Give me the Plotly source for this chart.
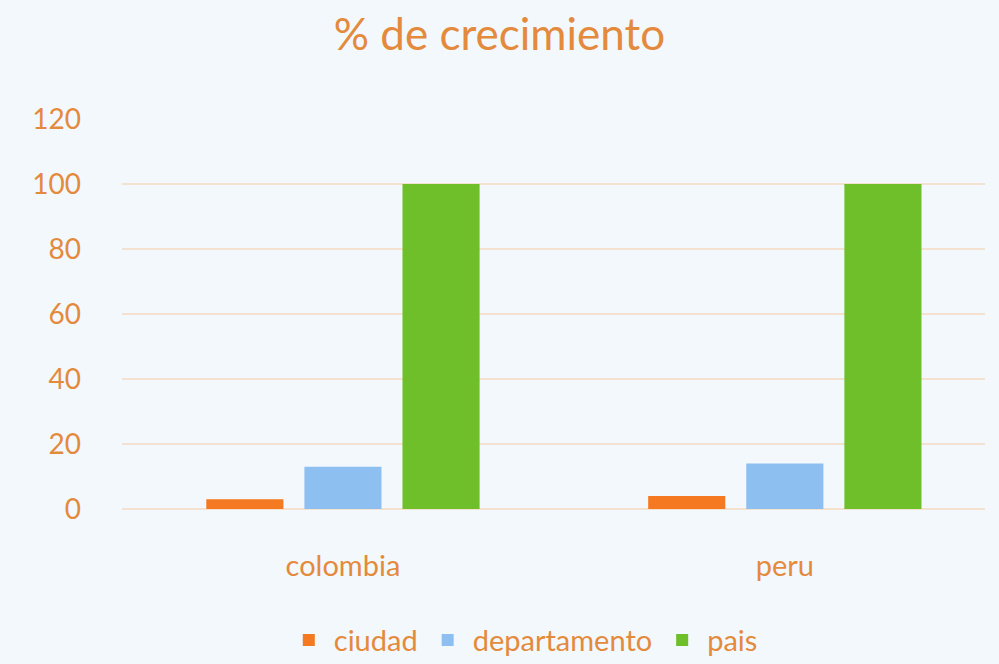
import plotly.graph_objects as go

categories = ["colombia", "peru"]
series_names = ["ciudad", "departamento", "pais"]
ciudad = [3, 4]
departamento = [13, 14]
pais = [100, 100]
y_ticks = [0, 20, 40, 60, 80, 100, 120]

colors = ["#F47920", "#8DBFF0", "#6EBF2A"]
text_color = "#E48A3C"
bg = "#F3F8FC"
font_family = "Lato"

fig = go.Figure()
for name, vals, col in zip(series_names, [ciudad, departamento, pais], colors):
    fig.add_trace(go.Bar(name=name, x=categories, y=vals, marker=dict(color=col, line=dict(width=0))))

fig.update_layout(
    width=999, height=664,
    paper_bgcolor=bg, plot_bgcolor=bg,
    barmode="group", bargap=0.334, bargroupgap=0.214,
    margin=dict(l=122, r=14, t=119, b=155, autoexpand=False),
    title=dict(text="% de crecimiento", x=0.5, xanchor="center", y=0.948, yanchor="middle",
               font=dict(family=font_family, size=44, color=text_color)),
    font=dict(family=font_family, color=text_color),
    xaxis=dict(range=[-0.5, 1.453], showgrid=False, showline=False, zeroline=False,
               ticks="outside", ticklen=31, tickcolor=bg, automargin=False,
               tickfont=dict(size=29, color=text_color, family=font_family)),
    yaxis=dict(range=[0, 120], tickvals=y_ticks, showgrid=True, gridcolor="#F5E1D0", gridwidth=2,
               zeroline=True, zerolinecolor="#F5E1D0", zerolinewidth=2, showline=False,
               ticklabelstandoff=40, automargin=False,
               tickfont=dict(size=28, color=text_color, family=font_family)),
    legend=dict(orientation="h", x=0.465, xanchor="center", y=-0.336, yanchor="middle",
                font=dict(size=29, color=text_color, family=font_family),
                itemwidth=40, bgcolor="rgba(0,0,0,0)"),
)

fig.write_html("out.html", config={"displayModeBar": False},
               post_script="document.body.style.margin='0';document.body.style.overflow='hidden';")
